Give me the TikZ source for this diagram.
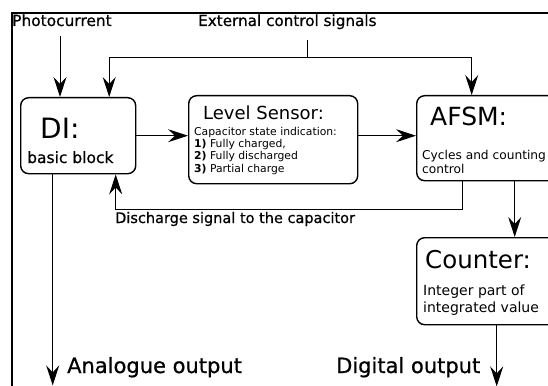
\documentclass[tikz,border=0pt]{standalone}
\usepackage{fontspec}
\setmainfont{DejaVu Sans}
\newfontfamily\semibold{DejaVu Sans}[FakeBold=0.7]
\usetikzlibrary{arrows.meta,positioning}

\begin{document}
\begin{tikzpicture}[
    x=1pt, y=-1pt,
    block/.style={draw, line width=1.4pt, rounded corners=8pt, anchor=north west, inner sep=0pt},
    flow/.style={-{Stealth[length=20pt, width=13pt, inset=7pt]}, line width=1pt},
    wire/.style={line width=1pt},
    txt/.style={anchor=base west, inner sep=0pt, align=left},
]
\useasboundingbox (0,0) rectangle (548,385);

% === FRAME ===
\draw[line width=1.6pt] (12,400) -- (12,13) -- (560,13);

% === BLOCKS ===
\node[block, minimum width=115pt, minimum height=76pt] (di) at (20,97) {};
\node[block, minimum width=169pt, minimum height=88pt] (ls) at (188,95) {};
\node[block, minimum width=150pt, minimum height=85pt] (afsm) at (416,95) {};
\node[block, minimum width=150pt, minimum height=87pt] (counter) at (416,237) {};

% === BLOCK TEXTS (multi-line ones sit on their last line) ===
\node[txt, font=\fontsize{28}{30}\selectfont] (di_title) at (40,138) {DI:};
\node[txt, font=\fontsize{15.5}{17}\selectfont\semibold] (di_sub) at (27,163) {basic block};
\node[txt, font=\fontsize{18}{20}\selectfont] (ls_title) at (203,120) {Level Sensor:};
\node[txt, font=\fontsize{10.8}{12.3}\selectfont] (ls_body) at (194,172)
    {Capacitor state indication:\\\textbf{1)} Fully charged,\\\textbf{2)} Fully discharged\\\textbf{3)} Partial charge};
\node[txt, font=\fontsize{25}{27}\selectfont] (afsm_title) at (430,125) {AFSM:};
\node[txt, font=\fontsize{12.2}{13.5}\selectfont] (afsm_body) at (422,173) {Cycles and counting\\control};
\node[txt, font=\fontsize{24.5}{27}\selectfont] (counter_title) at (425,268) {Counter:};
\node[txt, font=\fontsize{14}{17}\selectfont] (counter_body) at (423,312) {Integer part of\\integrated value};

% === LABELS ===
\node[txt, font=\fontsize{15.4}{17}\selectfont\semibold] (photo) at (12,26) {Photocurrent};
\node[txt, font=\fontsize{15.2}{17}\selectfont\semibold] (ext) at (198,26) {External control signals};
\node[txt, font=\fontsize{14.5}{16}\selectfont\semibold] (dis) at (115,223) {Discharge signal to the capacitor};
\node[txt, font=\fontsize{21}{23}\selectfont\semibold] (ana) at (67,373) {Analogue output};
\node[txt, font=\fontsize{21}{23}\selectfont\semibold] (dig) at (336,373) {Digital output};

% === COORDINATES ===
\coordinate (pin) at (60,36);
\coordinate (ext_in) at (307,40);
\coordinate (ext_split) at (307,58);

% === ARROWS ===
\draw[flow] (pin) -- (pin |- di.north);
\draw[wire] (ext_in) -- (ext_split);
\draw[flow] (ext_split) -| ([xshift=31pt]di.north);
\draw[flow] (ext_split) -| ([xshift=-20pt]afsm.north);

\draw[flow] (di.east) -- (di.east -| ls.west);
\draw[flow] (di.east -| ls.east) -- (di.east -| afsm.west);

\draw[flow] ([xshift=-29pt]afsm.south) -- ++(0,28) -| ([xshift=37.5pt]di.south);
\draw[flow] ([xshift=23pt]afsm.south) -- ([xshift=23pt]afsm.south |- counter.north);

\draw[flow] ([xshift=-25.5pt]di.south) -- ++(0,211);
\draw[flow] ([xshift=5pt]counter.south) -- ++(0,61);

\end{tikzpicture}
\end{document}
